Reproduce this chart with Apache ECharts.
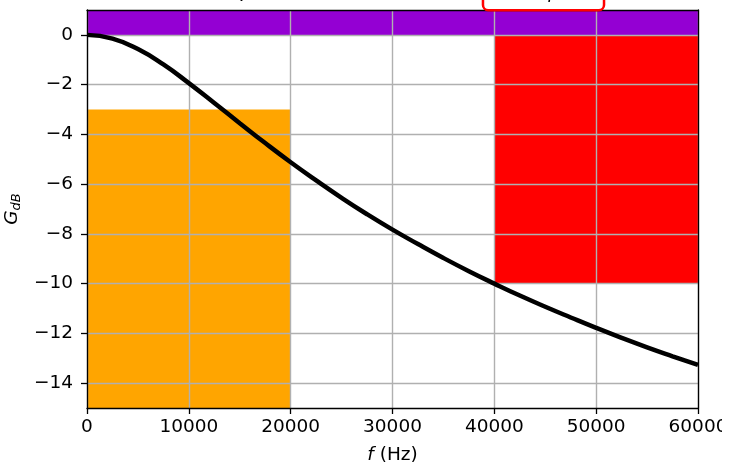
<!DOCTYPE html>
<html><head><meta charset="utf-8">
<script src="https://cdn.jsdelivr.net/npm/echarts@6/dist/echarts.min.js"></script>
<style>html,body{margin:0;padding:0;background:#fff}#c{width:742px;height:462px}</style>
</head><body><div id="c"></div>
<script>
// Frequency response
var freqHz = [0,2500,5000,7500,10000,12500,15000,17500,20000,22500,25000,27500,30000,32500,35000,37500,40000,42500,45000,47500,50000,52500,55000,57500,60000];
var gainDb = [0,-0.15,-0.57,-1.19,-1.94,-2.74,-3.55,-4.35,-5.12,-5.85,-6.55,-7.21,-7.83,-8.41,-8.97,-9.50,-10.0,-10.48,-10.93,-11.36,-11.78,-12.18,-12.56,-12.92,-13.27];
// Template zones: [fStart, fEnd, gLow, gHigh]
var zoneTop    = [0, 60000, 0, 1];
var zonePass   = [0, 20000, -15, -3];
var zoneStop   = [40000, 60000, -10, 0];
var xTicks = [0,10000,20000,30000,40000,50000,60000];
var yTicks = [0,-2,-4,-6,-8,-10,-12,-14];
var titleMain = 'Tracé de la réponse du filtre RC idéal, ';
var titleBox = 'ε = 3, p = 2';

var zones = [zoneTop, zonePass, zoneStop];
var zoneColors = ['#9400d3', '#ffa500', '#ff0000'];
var font = 'DejaVu Sans';
var fs = 18.5;
var minus = function (v) { return String(v).replace('-', '\u2212'); };

var chart = echarts.init(document.getElementById('c'), null, {renderer: 'canvas'});
chart.setOption({
  animation: false,
  backgroundColor: '#fff',
  grid: {left: 87, right: 44, top: 10, bottom: 54, outerBoundsMode: 'none', containLabel: false},
  graphic: [
    {type: 'text', x: 484, y: 2, z: 100,
     style: {text: titleMain, font: '20px "DejaVu Sans"', fill: '#000', align: 'right', verticalAlign: 'bottom'}},
    {type: 'text', x: 543.5, y: 9, z: 100,
     style: {text: titleBox, font: 'italic 18px "DejaVu Sans"', fill: '#000', align: 'center', verticalAlign: 'bottom',
             backgroundColor: '#fff', borderColor: '#ff0000', borderWidth: 2.5, borderRadius: 4, padding: [4, 5, 7, 5]}},
    {type: 'rect', shape: {x: 722, y: 0, width: 20, height: 462}, style: {fill: '#fff'}, z: 100, silent: true}
  ],
  xAxis: [{
    type: 'value', min: 0, max: 60000, interval: 10000, z: 3,
    name: '{i|f} (Hz)', nameLocation: 'middle', nameGap: 38,
    nameTextStyle: {fontFamily: font, fontSize: fs, color: '#000', rich: {i: {fontFamily: font, fontSize: fs, fontStyle: 'italic', color: '#000'}}},
    axisLine: {show: true, onZero: false, lineStyle: {color: '#000', width: 1.3}},
    axisTick: {show: true, length: 6, lineStyle: {color: '#000', width: 1.3}},
    axisLabel: {fontFamily: font, fontSize: fs, color: '#000', margin: 10, showMaxLabel: true, showMinLabel: true,
                customValues: xTicks, formatter: function (v) { return String(v); }},
    splitLine: {show: true, lineStyle: {color: '#b0b0b0', width: 1.4}}
  }, {
    type: 'value', min: 0, max: 60000, position: 'top', z: 3,
    axisLine: {show: true, onZero: false, lineStyle: {color: '#000', width: 1.3}},
    axisTick: {show: false}, axisLabel: {show: false}, splitLine: {show: false}
  }],
  yAxis: [{
    type: 'value', min: -15, max: 1, z: 3,
    name: '{g|G}{s|dB}', nameLocation: 'middle', nameGap: 58, nameRotate: 90,
    nameTextStyle: {fontFamily: font, fontSize: fs, color: '#000',
      rich: {g: {fontFamily: font, fontSize: fs, fontStyle: 'italic', color: '#000'},
             s: {fontFamily: font, fontSize: 13, fontStyle: 'italic', color: '#000', verticalAlign: 'bottom', padding: [8, 0, 0, 0]}}},
    axisLine: {show: true, onZero: false, lineStyle: {color: '#000', width: 1.3}},
    axisTick: {show: true, length: 6, customValues: yTicks, lineStyle: {color: '#000', width: 1.3}},
    axisLabel: {fontFamily: font, fontSize: fs, color: '#000', margin: 14, customValues: yTicks, formatter: minus},
    splitLine: {show: true, lineStyle: {color: '#b0b0b0', width: 1.4}}
  }, {
    type: 'value', min: -15, max: 1, position: 'right', z: 3,
    axisLine: {show: true, onZero: false, lineStyle: {color: '#000', width: 1.3}},
    axisTick: {show: false}, axisLabel: {show: false}, splitLine: {show: false}
  }],
  series: [{
    type: 'custom', z: 1, silent: true,
    data: zones.map(function (z, i) { return [z[0], z[1], z[2], z[3], i]; }),
    encode: {x: [0, 1], y: [2, 3]},
    renderItem: function (params, api) {
      var p0 = api.coord([api.value(0), api.value(3)]);
      var p1 = api.coord([api.value(1), api.value(2)]);
      return {type: 'rect', shape: {x: p0[0], y: p0[1], width: p1[0] - p0[0], height: p1[1] - p0[1]},
              style: {fill: zoneColors[api.value(4)]}};
    }
  }, {
    type: 'line', z: 5, smooth: true, showSymbol: false, silent: true,
    data: freqHz.map(function (f, i) { return [f, gainDb[i]]; }),
    lineStyle: {color: '#000', width: 4.5}
  }]
});
</script></body></html>
